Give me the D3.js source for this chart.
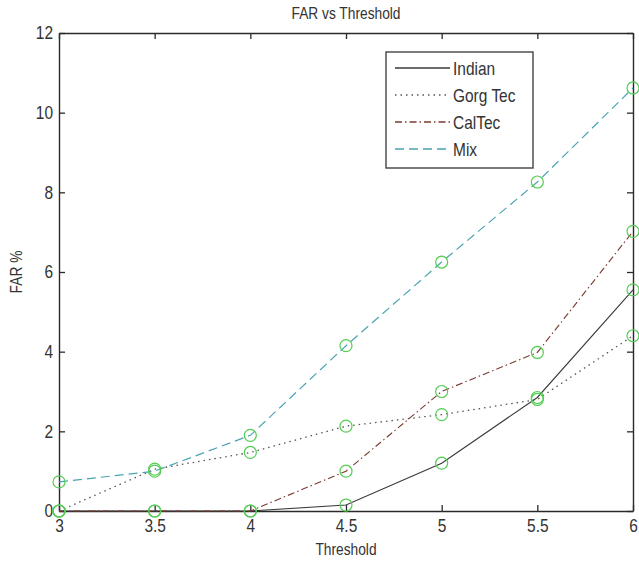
<!DOCTYPE html>
<html>
<head>
<meta charset="utf-8">
<script src="https://cdn.jsdelivr.net/npm/d3@7"></script>
<style>
  html, body { margin: 0; padding: 0; background: #fff; }
  svg text { font-family: "Liberation Sans", Arial, sans-serif; fill: #333; }
</style>
</head>
<body>
<svg id="chart" width="639" height="562"></svg>
<script>
// Threshold values along the x axis
const thresholds = [3, 3.5, 4, 4.5, 5, 5.5, 6];
const xTicks = [3, 3.5, 4, 4.5, 5, 5.5, 6];
const yTicks = [0, 2, 4, 6, 8, 10, 12];

// FAR % per dataset
const indian  = [0, 0, 0, 0.15, 1.2, 2.85, 5.55];
const gorgTec = [0, 1.05, 1.47, 2.13, 2.42, 2.8, 4.4];
const calTec  = [0, 0, 0, 1.0, 3.0, 3.98, 7.02];
const mix     = [0.73, 1.0, 1.9, 4.15, 6.25, 8.26, 10.62];

const seriesNames = ["Indian", "Gorg Tec", "CalTec", "Mix"];
const seriesValues = [indian, gorgTec, calTec, mix];

const styles = {
  "Indian":   { color: "#3a3a3a", dash: null,        width: 1.1 },
  "Gorg Tec": { color: "#555555", dash: "1.5,4",     width: 1.3 },
  "CalTec":   { color: "#7a3a30", dash: "7,3,1.5,3", width: 1.1 },
  "Mix":      { color: "#4aa3b3", dash: "9,5",       width: 1.2 }
};

const W = 639, H = 562;
const margin = { left: 59, right: 6, top: 33, bottom: 51 };
const SX = 0.86;   // horizontal squeeze for the narrow label face

const svg = d3.select("#chart");
const x = d3.scaleLinear().domain([3, 6]).range([margin.left, W - margin.right]);
const y = d3.scaleLinear().domain([0, 12]).range([H - margin.bottom, margin.top]);

// Condensed text helper
function label(parent, px, py, txt, size, anchor, rot) {
  const g = parent.append("g")
    .attr("transform", `translate(${px},${py})` + (rot ? ` rotate(${rot})` : "") + ` scale(${SX},1)`);
  return g.append("text").attr("text-anchor", anchor).attr("font-size", size).text(txt);
}

// Axes with inward ticks (left/bottom labelled, top/right mirrored)
const axisColor = "#2a2a2a";
const gBottom = svg.append("g").attr("transform", `translate(0,${y(0)})`)
  .call(d3.axisBottom(x).tickValues(xTicks).tickSizeInner(-6).tickSizeOuter(0).tickPadding(8).tickFormat(d3.format("")));
const gLeft = svg.append("g").attr("transform", `translate(${x(3)},0)`)
  .call(d3.axisLeft(y).tickValues(yTicks).tickSizeInner(-6).tickSizeOuter(0).tickPadding(7).tickFormat(d3.format("")));
const gTop = svg.append("g").attr("transform", `translate(0,${y(12)})`)
  .call(d3.axisTop(x).tickValues(xTicks).tickSizeInner(-6).tickSizeOuter(0).tickFormat(""));
const gRight = svg.append("g").attr("transform", `translate(${x(6)},0)`)
  .call(d3.axisRight(y).tickValues(yTicks).tickSizeInner(-6).tickSizeOuter(0).tickFormat(""));

[gBottom, gLeft, gTop, gRight].forEach(g => {
  g.select(".domain").attr("stroke", axisColor).attr("stroke-width", 1.4);
  g.selectAll(".tick line").attr("stroke", axisColor).attr("stroke-width", 1.3);
  g.selectAll(".tick text").attr("font-size", 18).attr("fill", "#333")
    .attr("transform", `scale(${SX},1)`)
    .style("font-family", "'Liberation Sans', Arial, sans-serif");
});

// Title and axis labels
label(svg, (x(3) + x(6)) / 2, 19, "FAR vs Threshold", 16, "middle");
label(svg, (x(3) + x(6)) / 2, 555, "Threshold", 16, "middle");
label(svg, 22, (y(0) + y(12)) / 2, "FAR %", 16, "middle", -90);

// Lines
const line = d3.line().x((d, i) => x(thresholds[i])).y(d => y(d));
const plot = svg.append("g");
seriesNames.forEach((name, k) => {
  const s = styles[name];
  plot.append("path").datum(seriesValues[k])
    .attr("fill", "none").attr("stroke", s.color).attr("stroke-width", s.width)
    .attr("stroke-dasharray", s.dash).attr("d", line);
});

// Circle markers
seriesNames.forEach((name, k) => {
  plot.selectAll(null).data(seriesValues[k]).enter().append("circle")
    .attr("cx", (d, i) => x(thresholds[i])).attr("cy", d => y(d)).attr("r", 6)
    .attr("fill", "none").attr("stroke", "#55cc55").attr("stroke-width", 1.2);
});

// Legend
const lg = svg.append("g");
lg.append("rect").attr("x", 386).attr("y", 52).attr("width", 147).attr("height", 116)
  .attr("fill", "#fff").attr("stroke", "#444").attr("stroke-width", 1.4);
const rowsY = [68, 95, 122, 149];
seriesNames.forEach((name, k) => {
  const s = styles[name];
  lg.append("line").attr("x1", 395).attr("x2", 450).attr("y1", rowsY[k]).attr("y2", rowsY[k])
    .attr("stroke", s.color).attr("stroke-width", s.width + 0.3).attr("stroke-dasharray", s.dash);
  label(lg, 453, rowsY[k] + 6.5, name, 18, "start");
});
</script>
</body>
</html>
